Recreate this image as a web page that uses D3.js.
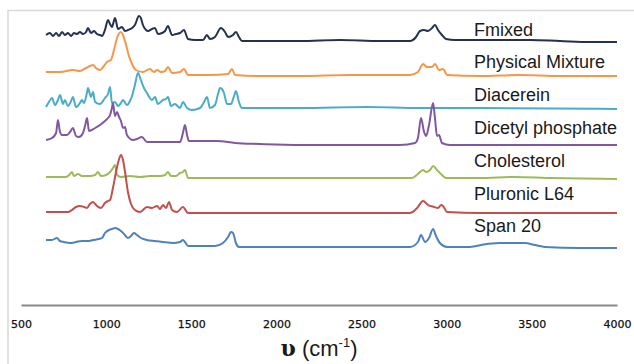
<!DOCTYPE html>
<html>
<head>
<meta charset="utf-8">
<script src="https://cdn.jsdelivr.net/npm/d3@7"></script>
<style>
  html, body { margin: 0; padding: 0; background: #fff; }
  svg { display: block; }
</style>
</head>
<body>
<script>
// wavenumber ticks
const xTicks = [500, 1000, 1500, 2000, 2500, 3000, 3500, 4000];

// series names, top to bottom
const names = ["Fmixed", "Physical Mixture", "Diacerein", "Dicetyl phosphate", "Cholesterol", "Pluronic L64", "Span 20"];
// vertical offset of each trace (a.u.)
const offsets = [263, 229, 196, 160, 126, 92, 57];

// [wavenumber cm-1, intensity a.u. above own baseline]
const fmixed = [
  [647,7],[670,9],[688,6],[706,9],[723,6],[741,10],[758,7],[776,9],[794,6],[811,9],[829,8],[846,10],
  [864,8],[882,10],[893,14],[911,9],[929,11],[946,8],[964,7],[976,6],[993,12],[1011,22],[1023,18],
  [1034,15],[1052,24],[1070,13],[1093,15],[1111,11],[1128,12],[1152,14],[1169,17],[1193,26],[1204,24],
  [1216,17],[1234,12],[1246,11],[1269,13],[1287,14],[1304,8],[1328,9],[1346,11],[1363,16],[1387,7],
  [1410,8],[1434,9],[1457,12],[1481,3],[1522,2],[1569,2],[1592,7],[1610,3],[1639,5],[1674,14],[1698,10],
  [1716,5],[1745,7],[1762,10],[1780,5],[1798,1],[1903,1],[2138,1],[2373,2],[2608,1],[2784,1],[2820,5],
  [2843,11],[2867,12],[2890,11],[2914,14],[2931,17],[2949,12],[2972,7],[2996,3],[3049,2],[3195,2],
  [3371,2],[3489,2],[3665,1],[3841,0],[4000,0]
];
const physical = [
  [647,4],[729,4],[805,6],[846,5],[882,8],[905,10],[923,11],[940,8],[964,6],[987,10],[1005,14],[1028,16],
  [1046,26],[1064,38],[1087,44],[1099,41],[1117,31],[1134,20],[1152,12],[1175,6],[1216,4],[1257,7],
  [1281,4],[1299,6],[1322,4],[1346,5],[1363,9],[1387,3],[1434,4],[1457,7],[1481,1],[1610,1],[1716,2],
  [1739,7],[1757,1],[1903,0],[2138,0],[2432,1],[2784,1],[2831,4],[2861,12],[2884,9],[2914,9],[2931,12],
  [2955,6],[2978,7],[3002,1],[3195,0],[3430,1],[3665,0],[4000,0]
];
const diacerein = [
  [647,2],[664,7],[682,11],[700,4],[717,9],[729,14],[747,5],[758,9],[776,3],[794,8],[805,12],[823,2],
  [846,6],[858,9],[870,6],[888,17],[893,21],[911,12],[923,17],[935,7],[964,5],[993,11],[1011,15],
  [1023,22],[1034,6],[1052,7],[1070,3],[1087,6],[1099,9],[1122,4],[1140,8],[1152,13],[1169,24],
  [1187,36],[1204,29],[1222,21],[1240,16],[1257,11],[1269,9],[1287,12],[1304,5],[1334,9],[1352,10],
  [1363,12],[1381,3],[1404,5],[1434,1],[1451,7],[1475,1],[1504,-1],[1551,1],[1575,7],[1592,12],[1610,1],
  [1639,4],[1657,15],[1669,21],[1680,20],[1692,16],[1710,5],[1733,5],[1751,13],[1762,18],[1780,7],
  [1798,1],[2138,1],[2532,2],[2843,1],[3195,1],[4000,0]
];
const dicetyl = [
  [647,5],[682,7],[706,12],[717,25],[729,13],[741,10],[770,10],[788,13],[805,17],[823,9],[840,8],[864,12],
  [876,19],[888,27],[899,14],[935,17],[964,20],[993,24],[1011,27],[1023,30],[1034,37],[1040,42],
  [1052,29],[1064,33],[1076,28],[1087,24],[1099,17],[1111,18],[1122,10],[1158,5],[1181,6],[1210,8],
  [1240,3],[1316,3],[1393,3],[1434,3],[1451,12],[1463,20],[1475,10],[1486,4],[1551,4],[1651,4],[1757,2],
  [1903,1],[2138,0],[2725,0],[2814,2],[2831,7],[2849,27],[2867,13],[2879,9],[2896,20],[2920,42],
  [2931,27],[2943,9],[2955,10],[2972,2],[3019,0],[4000,0]
];
const cholesterol = [
  [647,2],[729,2],[764,2],[788,5],[799,7],[811,3],[835,5],[858,3],[905,3],[935,4],[952,7],[970,3],
  [999,4],[1023,7],[1040,11],[1052,14],[1064,4],[1087,2],[1140,3],[1199,2],[1257,3],[1316,3],[1346,4],
  [1363,7],[1381,3],[1410,3],[1434,6],[1451,7],[1463,9],[1481,1],[1669,1],[2138,1],[2608,1],[2796,1],
  [2831,5],[2861,9],[2879,7],[2902,9],[2920,13],[2943,9],[2972,4],[2996,1],[3195,1],[3401,2],[3606,1],
  [4000,0]
];
const pluronic = [
  [647,1],[729,1],[776,1],[799,3],[823,6],[846,7],[870,6],[888,5],[905,9],[923,11],[946,7],[970,5],
  [993,10],[1011,12],[1023,13],[1040,25],[1058,41],[1076,54],[1087,58],[1099,53],[1111,41],[1128,21],
  [1146,9],[1169,3],[1199,1],[1240,6],[1269,5],[1299,7],[1316,4],[1334,8],[1352,5],[1369,11],[1387,3],
  [1416,1],[1451,6],[1481,0],[2138,0],[2784,0],[2826,5],[2861,12],[2890,8],[2926,6],[2949,5],[2967,8],
  [2978,7],[3002,1],[3195,0],[4000,0]
];
const span20 = [
  [647,8],[682,8],[711,10],[729,7],[752,6],[788,5],[823,6],[858,7],[893,7],[923,8],[958,9],[976,10],
  [993,15],[1017,18],[1034,19],[1052,20],[1070,19],[1087,17],[1105,14],[1128,10],[1146,12],[1163,15],
  [1181,13],[1204,10],[1240,8],[1287,7],[1334,6],[1393,5],[1434,6],[1451,8],[1463,6],[1481,2],[1551,2],
  [1639,2],[1686,5],[1716,11],[1733,16],[1745,15],[1762,5],[1780,1],[2138,1],[2784,1],[2831,6],[2849,13],
  [2873,6],[2896,10],[2920,19],[2937,12],[2960,5],[3002,1],[3119,1],[3236,4],[3313,5],[3389,5],[3459,5],
  [3518,3],[3577,1],[3782,0],[4000,0]
];

const seriesData = [fmixed, physical, diacerein, dicetyl, cholesterol, pluronic, span20];
const colors = ["#243150", "#f79646", "#4bacc6", "#7f58a0", "#9bbb59", "#c0504d", "#4f81bd"];

const width = 634;
const height = 364;

const svg = d3.select("body").append("svg")
  .attr("width", width)
  .attr("height", height);

// chart frame (only top and left edges show)
svg.append("line")
  .attr("x1", 8).attr("x2", width).attr("y1", 10.5).attr("y2", 10.5)
  .attr("stroke", "#d9d9d9").attr("stroke-width", 1.5);
svg.append("line")
  .attr("x1", 8).attr("x2", 8).attr("y1", 10).attr("y2", height)
  .attr("stroke", "#d9d9d9").attr("stroke-width", 1.5);

const x = d3.scaleLinear().domain([500, 4000]).range([21, 617]);
const y = d3.scaleLinear().domain([0, 300]).range([305, 5]);

// x axis
const xAxis = d3.axisBottom(x)
  .tickValues(xTicks)
  .tickSize(0)
  .tickPadding(15)
  .tickFormat(d3.format("d"));

const axisG = svg.append("g")
  .attr("transform", `translate(0,${y(0)})`)
  .call(xAxis);
axisG.select(".domain")
  .attr("stroke", "#888")
  .attr("stroke-width", 2);
axisG.selectAll(".tick text")
  .attr("font-family", "DejaVu Sans, Verdana, sans-serif")
  .attr("font-size", 11)
  .attr("fill", "#111")
  .attr("stroke", "#111")
  .attr("stroke-width", 0.25);

// traces
const line = d3.line()
  .x(d => x(d[0]))
  .y(d => d.y)
  .curve(d3.curveMonotoneX);

seriesData.forEach((s, i) => {
  const pts = s.map(d => { const p = [d[0], d[1]]; p.y = y(offsets[i] + d[1]); return p; });
  svg.append("path")
    .datum(pts)
    .attr("fill", "none")
    .attr("stroke", colors[i])
    .attr("stroke-width", 2)
    .attr("stroke-linejoin", "round")
    .attr("d", line);
});

// trace labels
const labelY = [36, 68, 101, 134, 167, 200, 232];
svg.append("g").selectAll("text")
  .data(names)
  .join("text")
  .attr("x", 474)
  .attr("y", (d, i) => labelY[i])
  .attr("font-family", "Liberation Sans, Arial, sans-serif")
  .attr("font-size", 18)
  .attr("fill", "#1a1a1a")
  .text(d => d);

// axis title
const title = svg.append("text")
  .attr("x", 319)
  .attr("y", 356)
  .attr("text-anchor", "middle")
  .attr("fill", "#1a1a1a")
  .attr("font-family", "Liberation Sans, Arial, sans-serif")
  .attr("font-size", 22);
title.append("tspan")
  .attr("font-family", "DejaVu Serif, Liberation Serif, serif")
  .attr("font-weight", "bold")
  .text("υ");
title.append("tspan").text(" (cm");
title.append("tspan")
  .attr("font-size", 13)
  .attr("dy", -9)
  .text("-1");
title.append("tspan")
  .attr("dy", 9)
  .text(")");
</script>
</body>
</html>
